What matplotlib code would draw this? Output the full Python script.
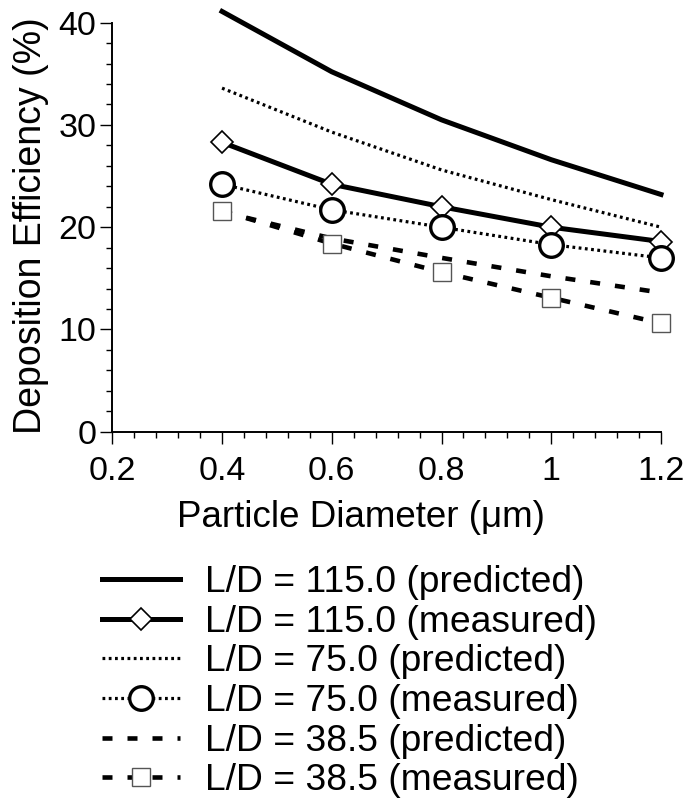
import matplotlib
matplotlib.use("Agg")
import matplotlib.pyplot as plt
from matplotlib.ticker import MultipleLocator

plt.rcParams['font.family'] = ['Liberation Sans', 'DejaVu Sans']
plt.rcParams['lines.scale_dashes'] = False

diam = [0.4, 0.6, 0.8, 1.0, 1.2]
pred_115 = [41.1, 35.2, 30.5, 26.6, 23.2]
meas_115 = [28.3, 24.2, 22.0, 20.0, 18.6]
pred_75 = [33.6, 29.3, 25.6, 22.7, 20.0]
meas_75 = [24.2, 21.7, 20.0, 18.3, 17.0]
pred_38 = [21.5, 18.9, 17.0, 15.2, 13.6]
meas_38 = [21.6, 18.4, 15.6, 13.1, 10.6]

labels = ["L/D = 115.0 (predicted)", "L/D = 115.0 (measured)",
          "L/D = 75.0 (predicted)", "L/D = 75.0 (measured)",
          "L/D = 38.5 (predicted)", "L/D = 38.5 (measured)"]

fig = plt.figure(figsize=(6.89, 7.98), dpi=100)
ax = fig.add_axes([112.3/689, 1-431.7/798, (661-112.3)/689, (431.7-22.7)/798])

dashed = (0, (7.2, 10.8))
dotted = (0, (2.0, 2.5))

h1, = ax.plot(diam, pred_115, color='black', lw=3.6, ls='-', clip_on=False, zorder=3)
h2, = ax.plot(diam, meas_115, color='black', lw=3.6, ls='-', marker='D', ms=11,
              mfc='white', mec='black', mew=1.2, clip_on=False, zorder=4)
h3, = ax.plot(diam, pred_75, color='black', lw=2.3, ls=dotted, clip_on=False, zorder=3)
h4, = ax.plot(diam, meas_75, color='black', lw=2.3, ls=dotted, marker='o', ms=17,
              mfc='white', mec='black', mew=2.4, clip_on=False, zorder=4)
h5, = ax.plot(diam, pred_38, color='black', lw=3.3, ls=dashed, clip_on=False, zorder=3)
h6, = ax.plot(diam, meas_38, color='black', lw=3.3, ls=dashed, marker='s', ms=13,
              mfc='white', mec='#555555', mew=1.0, clip_on=False, zorder=4)

ax.set_xlim(0.2, 1.2)
ax.set_ylim(0, 40)
ax.xaxis.set_minor_locator(MultipleLocator(0.04))
ax.yaxis.set_minor_locator(MultipleLocator(2))
ax.set_xticks([0.2, 0.4, 0.6, 0.8, 1.0, 1.2])
ax.set_xticklabels(["0.2", "0.4", "0.6", "0.8", "1", "1.2"])
ax.set_yticks([0, 10, 20, 30, 40])
ax.set_yticklabels(["0", "10", "20", "30", "40"])

for s in ['top', 'right']:
    ax.spines[s].set_visible(False)
for s in ['left', 'bottom']:
    ax.spines[s].set_linewidth(1.4)

ax.tick_params(axis='both', which='major', direction='out', length=8.6, width=1.0,
               labelsize=24.5, pad=3)
ax.tick_params(axis='both', which='minor', direction='out', length=4.6, width=1.0)
ax.tick_params(axis='x', which='major', pad=9)

ax.set_xlabel("Particle Diameter (\u03bcm)", fontsize=26.5)
ax.xaxis.set_label_coords(0.453, -0.168)
ax.set_ylabel("Deposition Efficiency (%)", fontsize=27)
ax.yaxis.set_label_coords(-0.1154, 0.505)

fig.legend([h1, h2, h3, h4, h5, h6], labels, loc='upper left',
           bbox_to_anchor=(101.7/689, 1-565/798), frameon=False, fontsize=26.8,
           handlelength=2.1, handletextpad=0.68, labelspacing=0.125,
           borderpad=0, borderaxespad=0, numpoints=1)

fig.savefig("out.png", dpi=100)
